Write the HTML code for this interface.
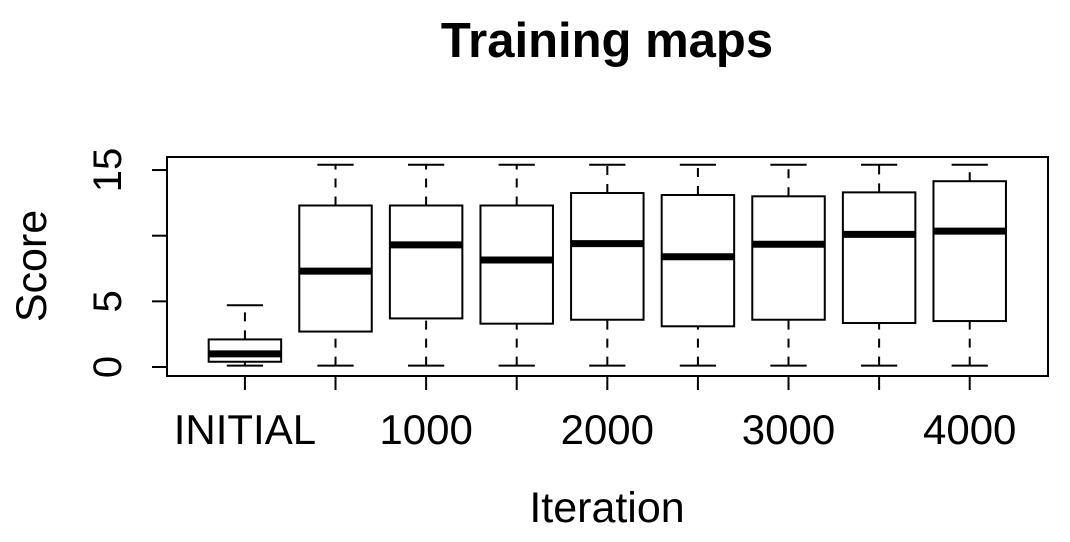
<!DOCTYPE html>
<html><head><meta charset="utf-8"><style>
body{margin:0;background:#fff}
svg{display:block;font-family:"Liberation Sans",sans-serif}
</style></head><body>
<svg id="c" width="1070" height="542">
<text x="607" y="57" text-anchor="middle" font-size="49" font-weight="bold">Training maps</text>
<rect x="167" y="157" width="881" height="219" fill="none" stroke="#000" stroke-width="2"/>
<text x="607" y="522" text-anchor="middle" font-size="43">Iteration</text>
<text transform="translate(46,266) rotate(-90)" text-anchor="middle" font-size="43">Score</text>
<g id="boxes"></g><g id="axes"></g>
</svg>
<script>
const categories=["INITIAL","500","1000","1500","2000","2500","3000","3500","4000"];
const shownLabels=["INITIAL","","1000","","2000","","3000","","4000"];
const lows=[0.1,0.1,0.1,0.1,0.1,0.1,0.1,0.1,0.1];
const q1s=[0.4,2.7,3.7,3.3,3.6,3.1,3.6,3.35,3.5];
const medians=[1.0,7.3,9.3,8.15,9.4,8.4,9.35,10.1,10.35];
const q3s=[2.1,12.3,12.3,12.3,13.25,13.1,13.0,13.3,14.15];
const highs=[4.7,15.4,15.4,15.4,15.4,15.4,15.4,15.4,15.4];
const yTicks=[0,5,10,15];
const yTickLabels=["0","5","","15"];
const NS="http://www.w3.org/2000/svg";
function y(v){return 367-v*13.13;}
function x(i){return 167+(i+1-0.5+0.36)*90.6;}
function mk(tag,attrs,parent){const e=document.createElementNS(NS,tag);for(const k in attrs)e.setAttribute(k,attrs[k]);parent.appendChild(e);return e;}
const B=document.getElementById('boxes'),A=document.getElementById('axes');
const hw=0.4*90.6,cw=0.2*90.6;
categories.forEach((c,i)=>{
 const cx=x(i);
 const g=mk('g',{},B);
 
 
 mk('line',{x1:cx,x2:cx,y1:y(q3s[i]),y2:y(highs[i]),stroke:'#000','stroke-width':2,'stroke-dasharray':'9,9'},g);
 mk('line',{x1:cx,x2:cx,y1:y(lows[i]),y2:y(q1s[i]),stroke:'#000','stroke-width':2,'stroke-dasharray':'9,9'},g);
 mk('line',{x1:cx-cw,x2:cx+cw,y1:y(highs[i]),y2:y(highs[i]),stroke:'#000','stroke-width':2},g);
 mk('line',{x1:cx-cw,x2:cx+cw,y1:y(lows[i]),y2:y(lows[i]),stroke:'#000','stroke-width':2},g);
 mk('rect',{x:cx-hw,y:y(q3s[i]),width:2*hw,height:y(q1s[i])-y(q3s[i]),fill:'#fff',stroke:'#000','stroke-width':2},g);
 mk('line',{x1:cx-hw,x2:cx+hw,y1:y(medians[i]),y2:y(medians[i]),stroke:'#000','stroke-width':7},g);
 const t=mk('line',{x1:cx,x2:cx,y1:376,y2:390,stroke:'#000','stroke-width':2},A);
 
 
 if(shownLabels[i]){const l=mk('text',{x:cx,y:444,'text-anchor':'middle','font-size':42},A);l.textContent=shownLabels[i];
 
 }
});
yTicks.forEach((v,i)=>{
 const t=mk('line',{x1:152,x2:167,y1:y(v),y2:y(v),stroke:'#000','stroke-width':2},A);
 
 
 if(yTickLabels[i]){const l=mk('text',{transform:`translate(121,${y(v)}) rotate(-90)`,'text-anchor':'middle','font-size':40},A);l.textContent=yTickLabels[i];
 
 }
});
</script>
</body></html>
